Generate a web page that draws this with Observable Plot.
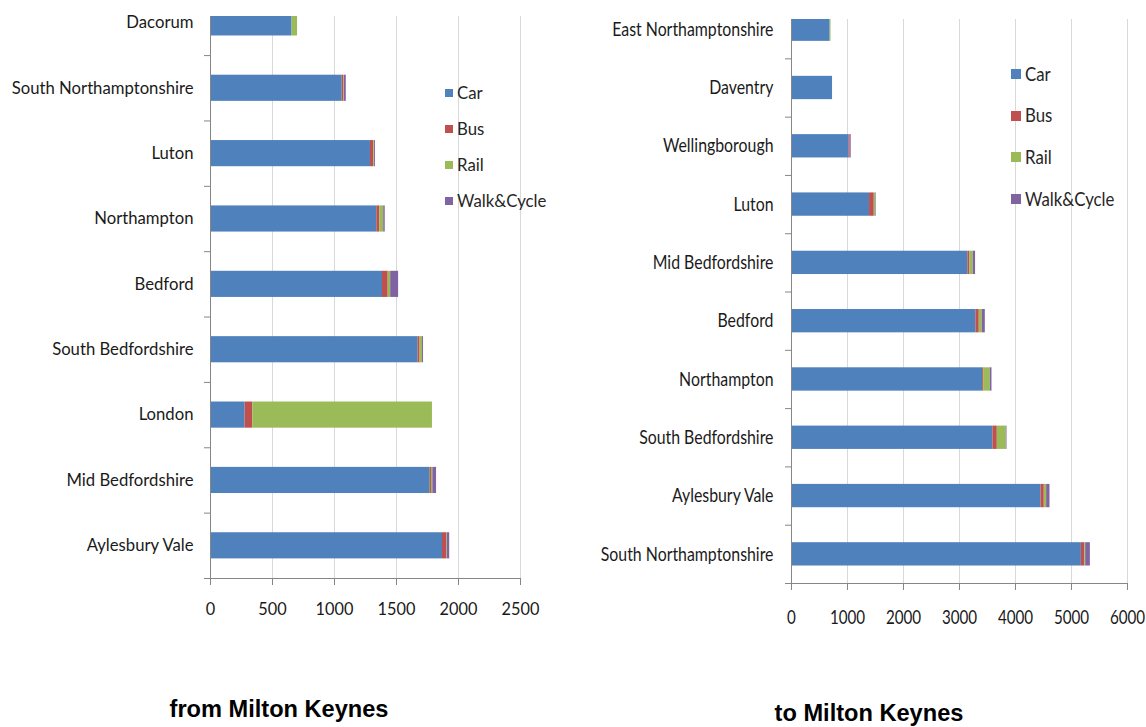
<!DOCTYPE html>
<html>
<head>
<meta charset="utf-8">
<script src="https://cdn.jsdelivr.net/npm/d3@7"></script>
<script src="https://cdn.jsdelivr.net/npm/@observablehq/plot@0.6"></script>
<style>
  html, body { margin: 0; padding: 0; background: #ffffff; }
  #root { position: relative; width: 1146px; height: 727px; overflow: hidden; background: #ffffff; font-family: Lato, sans-serif; }
  .panel { position: absolute; top: 0; }
  .leg { position: absolute; font-family: Lato, sans-serif; color: #262626; white-space: nowrap; }
  .sw { position: absolute; }
  .title { position: absolute; font-family: "Liberation Sans", Arial, sans-serif; font-weight: bold; font-size: 23.6px; line-height: 23.6px; color: #000; text-align: center; white-space: nowrap; }
</style>
</head>
<body>
<div id="root"></div>
<script>
// ---------- data ----------
const modes = ["Car", "Bus", "Rail", "Walk&Cycle"];
const modeColors = ["#4F81BD", "#C0504D", "#9BBB59", "#8064A2"];

// from Milton Keynes (top to bottom)
const fromCats = ["Dacorum", "South Northamptonshire", "Luton", "Northampton", "Bedford",
                  "South Bedfordshire", "London", "Mid Bedfordshire", "Aylesbury Vale"];
const fromCar  = [658, 1062, 1290, 1341, 1387, 1674, 279, 1771, 1871];
const fromBus  = [0, 14, 27, 24, 46, 16, 62, 11, 34];
const fromRail = [44, 4, 5, 32, 20, 20, 1449, 11, 4];
const fromWalk = [0, 15, 8, 12, 64, 8, 0, 30, 20];
const fromTicks = [0, 500, 1000, 1500, 2000, 2500];

// to Milton Keynes (top to bottom)
const toCats = ["East Northamptonshire", "Daventry", "Wellingborough", "Luton", "Mid Bedfordshire",
                "Bedford", "Northampton", "South Bedfordshire", "Aylesbury Vale", "South Northamptonshire"];
const toCar  = [690, 733, 1024, 1394, 3150, 3293, 3413, 3597, 4455, 5176];
const toBus  = [0, 0, 18, 84, 36, 60, 18, 78, 59, 60];
const toRail = [15, 0, 0, 25, 59, 54, 119, 161, 42, 17];
const toWalk = [0, 0, 24, 10, 42, 54, 30, 12, 60, 84];
const toTicks = [0, 1000, 2000, 3000, 4000, 5000, 6000];

const fromTitle = "from Milton Keynes";
const toTitle = "to Milton Keynes";

// ---------- helpers ----------
function stackRows(cats, series) {
  const rows = [];
  cats.forEach((c, i) => {
    let s = 0;
    modes.forEach((m, k) => {
      const v = series[k][i];
      if (v > 0) rows.push({cat: c, i, mode: m, x1: s, x2: s + v});
      s += v;
    });
  });
  return rows;
}

function makePanel(cfg) {
  const rows = stackRows(cfg.cats, cfg.series);
  const n = cfg.cats.length;
  const idx = d3.range(n);
  const bounds = d3.range(n).map(i => i + 0.5);
  const grid = cfg.ticks.filter(t => t > 0);
  return Plot.plot({
    width: cfg.width, height: cfg.height,
    marginLeft: cfg.marginLeft, marginRight: cfg.marginRight,
    marginTop: cfg.marginTop, marginBottom: cfg.marginBottom,
    style: {fontFamily: "Lato, sans-serif", fontSize: cfg.fontSize + "px", background: "transparent", overflow: "visible"},
    x: {domain: [0, cfg.ticks[cfg.ticks.length - 1]], label: null},
    y: {domain: [n - 0.5, cfg.yTop], label: null},
    color: {domain: modes, range: modeColors},
    marks: [
      Plot.gridX(grid, {stroke: "#d9d9d9", strokeOpacity: 1, strokeWidth: 1}),
      Plot.rect(rows, {x1: "x1", x2: "x2", y1: d => d.i - 0.2, y2: d => d.i + 0.2, fill: "mode", clip: true}),
      Plot.ruleX([0], {stroke: "#868686", strokeWidth: 1}),
      Plot.ruleY([n - 0.5], {stroke: "#868686", strokeWidth: 1}),
      Plot.axisX({ticks: cfg.ticks, tickSize: 7, tickFormat: () => "", color: "#868686", label: null}),
      Plot.axisX({ticks: cfg.ticks, tickSize: 0, tickPadding: cfg.xPad, tickFormat: d => String(d), color: "#1a1a1a", label: null, fontSize: cfg.fontSize}),
      Plot.axisY({ticks: bounds, tickSize: 6, tickFormat: () => "", color: "#868686", label: null}),
      Plot.axisY({ticks: idx, tickSize: 0, tickPadding: cfg.yPad, tickFormat: i => cfg.cats[i], color: "#1a1a1a", label: null, fontSize: cfg.yFontSize})
    ]
  });
}

function stretchText(svg, sx, sy) {
  svg.querySelectorAll("text").forEach(el => {
    if (!el.textContent) return;
    const t = el.getAttribute("transform");
    if (t) {
      el.setAttribute("transform", t + ` scale(${sx},${sy})`);
    } else {
      const x = +(el.getAttribute("x") || 0), y = +(el.getAttribute("y") || 0);
      el.removeAttribute("x"); el.removeAttribute("y");
      el.setAttribute("transform", `translate(${x},${y}) scale(${sx},${sy})`);
    }
  });
}

function legend(root, left, top, step, sq, fontSize, sy) {
  modes.forEach((m, k) => {
    const cy = top + k * step;
    const sw = document.createElement("div");
    sw.className = "sw";
    Object.assign(sw.style, {left: left + "px", top: (cy - sq / 2) + "px", width: sq + "px", height: sq + "px", background: modeColors[k]});
    root.appendChild(sw);
    const tx = document.createElement("div");
    tx.className = "leg";
    tx.textContent = m;
    Object.assign(tx.style, {left: (left + sq + 4) + "px", top: (cy - fontSize * 0.62) + "px", fontSize: fontSize + "px", lineHeight: (fontSize * 1.2) + "px",
      transform: `scaleY(${sy})`, transformOrigin: "left center"});
    root.appendChild(tx);
  });
}

function title(root, text, cx, top) {
  const d = document.createElement("div");
  d.className = "title";
  d.textContent = text;
  Object.assign(d.style, {left: (cx - 200) + "px", width: "400px", top: top + "px"});
  root.appendChild(d);
}

// ---------- build ----------
const root = document.getElementById("root");

const left = makePanel({
  cats: fromCats, series: [fromCar, fromBus, fromRail, fromWalk], ticks: fromTicks,
  width: 560, height: 640, marginLeft: 210, marginRight: 40, marginTop: 16, marginBottom: 62,
  yTop: -0.098, fontSize: 16.3, yFontSize: 16.7, xPad: 25, yPad: 17
});
const lw = document.createElement("div"); lw.className = "panel"; lw.style.left = "0px";
lw.appendChild(left); root.appendChild(lw);

const right = makePanel({
  cats: toCats, series: [toCar, toBus, toRail, toWalk], ticks: toTicks,
  width: 586, height: 650, marginLeft: 231, marginRight: 19, marginTop: 19, marginBottom: 67,
  yTop: -0.175, fontSize: 16, yFontSize: 16.7, xPad: 27, yPad: 18
});
stretchText(right, 0.95, 1.15);
const rw = document.createElement("div"); rw.className = "panel"; rw.style.left = "560px";
rw.appendChild(right); root.appendChild(rw);

legend(root, 445, 93, 36, 8, 16.8, 1.0);
legend(root, 1011, 74, 41.7, 10, 16.8, 1.1);

title(root, fromTitle, 279, 698);
title(root, toTitle, 869, 702);
</script>
</body>
</html>
